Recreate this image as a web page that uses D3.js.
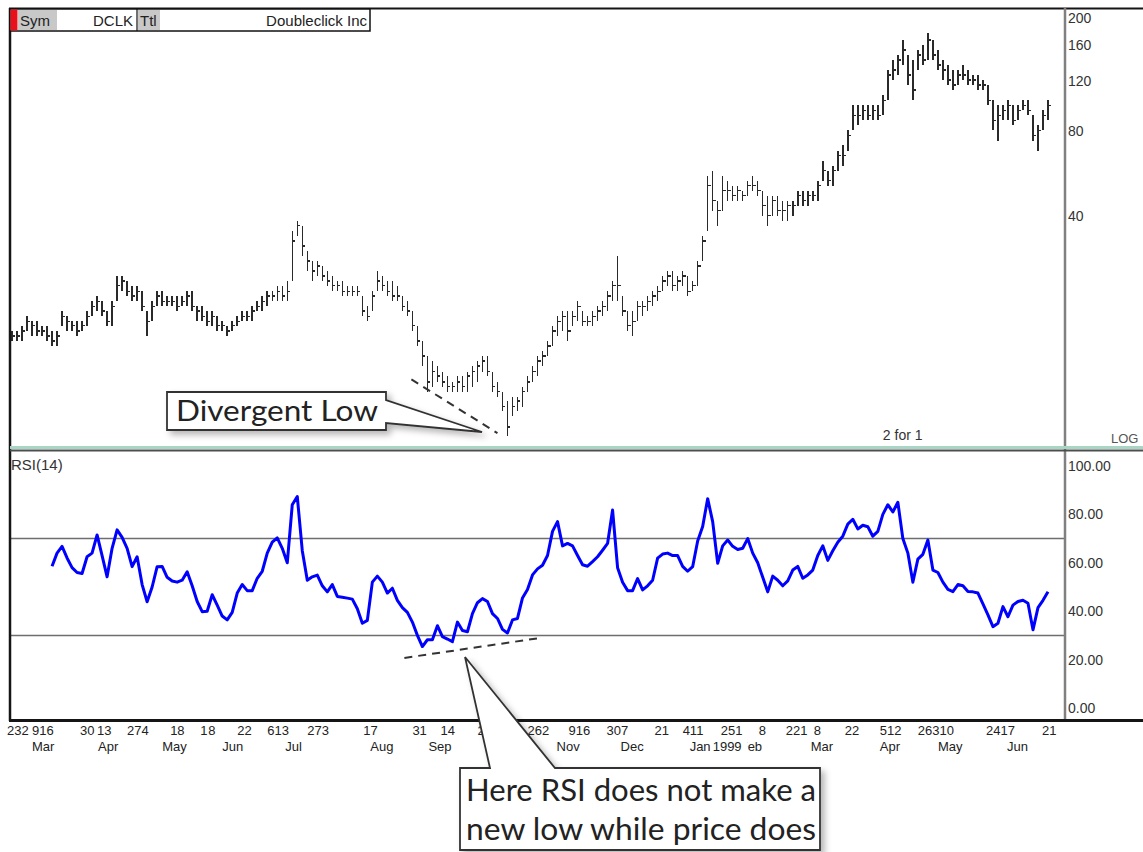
<!DOCTYPE html>
<html><head><meta charset="utf-8">
<script src="https://cdn.jsdelivr.net/npm/d3@7"></script>
<style>html,body{margin:0;padding:0;background:#fff;overflow:hidden}</style>
</head><body><svg id="c" width="1143" height="852"></svg>
<script>
// ---------------- DATA ----------------
const highs = [
15.7,15.7,16.4,17.7,17.0,17.0,16.4,16.4,15.7,15.7,
18.5,17.7,17.0,17.0,17.0,18.5,20.0,20.9,20.0,18.5,
20.0,24.6,24.6,23.6,22.7,22.7,21.7,18.5,20.0,21.7,
21.7,20.9,20.9,20.9,20.9,21.7,21.7,19.2,19.2,18.5,
18.5,17.7,17.0,16.4,17.0,17.7,18.5,18.5,19.2,20.0,
20.9,21.7,21.7,22.7,22.7,23.6,35.5,38.5,37.0,30.1,
27.8,27.8,26.7,25.6,24.6,23.6,23.6,22.7,22.7,22.7,
20.9,19.2,21.7,25.6,24.6,23.6,23.6,22.7,20.9,20.0,
18.5,16.4,14.5,12.8,12.3,11.8,11.3,10.9,10.4,10.9,
10.9,11.3,11.8,12.3,12.8,12.8,11.3,10.4,9.6,8.9,
9.2,9.2,10.0,10.9,11.8,12.8,13.3,14.5,16.4,17.7,
18.5,18.5,18.5,20.0,18.5,17.7,18.5,19.2,20.0,21.7,
23.6,28.9,20.9,18.5,18.5,20.0,20.0,20.9,21.7,22.7,
24.6,25.6,25.6,24.6,25.6,24.6,23.6,27.8,34.1,55.6,
57.9,45.3,55.6,53.3,51.2,51.2,49.2,53.3,55.6,53.3,
49.2,47.2,47.2,47.2,45.3,45.3,45.3,49.2,49.2,49.2,
49.2,53.3,62.8,57.9,60.3,68.1,71.0,80.2,98.4,98.4,
98.4,98.4,98.4,98.4,106.8,130.9,142.0,148.0,167.2,148.0,
142.0,154.1,160.6,177.0,167.2,154.1,142.0,136.4,130.9,130.9,
136.4,130.9,125.7,125.7,120.6,115.8,102.5,98.4,98.4,102.5,
98.4,98.4,102.5,102.5,90.7,83.6,94.4,102.5];
const lows = [
14.5,14.5,14.5,15.7,15.1,15.1,15.1,14.5,13.9,13.9,
16.4,15.7,15.7,15.1,15.7,16.4,17.7,18.5,17.7,16.4,
16.4,20.0,21.7,20.9,20.0,20.0,18.5,15.1,17.0,19.2,
19.2,19.2,19.2,18.5,19.2,19.2,18.5,17.0,17.0,16.4,
16.4,15.7,15.7,15.1,15.7,16.4,17.0,17.0,17.0,18.5,
18.5,19.2,20.0,20.0,20.0,20.0,23.6,34.1,28.9,25.6,
23.6,24.6,23.6,22.7,21.7,21.7,20.9,20.9,20.9,20.9,
17.7,17.0,18.5,21.7,21.7,20.9,20.0,20.0,18.5,17.7,
15.7,13.9,11.8,9.6,10.0,10.4,10.0,9.6,9.6,9.6,
9.6,9.6,10.0,10.4,11.3,10.9,9.6,9.2,8.2,6.7,
7.9,8.2,8.5,9.6,10.4,10.9,11.8,12.8,13.9,15.1,
15.7,14.5,16.4,17.0,16.4,16.4,16.4,17.0,17.7,18.5,
20.0,20.0,17.7,15.7,15.1,17.0,17.7,18.5,19.2,20.0,
21.7,22.7,21.7,21.7,22.7,20.9,21.7,22.7,27.8,35.5,
41.8,37.0,41.8,45.3,45.3,45.3,45.3,47.2,49.2,47.2,
40.1,37.0,40.1,40.1,38.5,38.5,40.1,43.5,43.5,43.5,
45.3,45.3,53.3,51.2,51.2,57.9,60.3,68.1,80.2,83.6,
87.0,87.0,87.0,87.0,90.7,102.5,120.6,125.7,136.4,115.8,
102.5,130.9,136.4,142.0,142.0,130.9,120.6,115.8,111.2,115.8,
120.6,115.8,115.8,111.2,111.2,98.4,80.2,73.9,87.0,87.0,
83.6,87.0,94.4,90.7,73.9,68.1,80.2,87.0];
const closes = [
15.1,15.1,15.7,17.0,16.4,15.7,15.7,15.1,14.5,15.1,
17.7,17.0,16.4,15.7,16.4,17.7,19.2,20.0,18.5,17.0,
19.2,22.7,23.6,21.7,20.9,21.7,19.2,17.0,19.2,20.9,
20.0,20.0,20.0,19.2,20.0,20.9,19.2,18.5,17.7,17.0,
17.7,16.4,16.4,15.7,16.4,17.0,17.7,17.7,18.5,19.2,
20.0,20.9,20.9,21.7,20.9,21.7,32.7,37.0,31.4,27.8,
25.6,26.7,24.6,23.6,22.7,22.7,21.7,21.7,21.7,21.7,
18.5,17.7,20.9,23.6,22.7,21.7,20.9,20.9,19.2,18.5,
16.4,14.5,12.8,10.4,11.3,10.9,10.4,10.0,10.0,10.4,
10.0,10.9,11.3,11.8,12.3,11.3,10.0,9.6,8.5,7.2,
8.5,8.9,9.6,10.4,11.3,12.3,12.8,13.9,15.7,17.0,
17.7,15.7,17.7,19.2,17.0,17.0,17.7,18.5,19.2,20.9,
22.7,22.7,18.5,16.4,17.0,19.2,19.2,20.0,20.9,21.7,
23.6,24.6,22.7,23.6,24.6,21.7,22.7,26.7,32.7,51.2,
45.3,41.8,49.2,49.2,47.2,49.2,47.2,51.2,51.2,49.2,
43.5,40.1,45.3,41.8,41.8,43.5,43.5,47.2,45.3,47.2,
47.2,51.2,57.9,53.3,57.9,65.4,65.4,77.0,90.7,90.7,
94.4,90.7,94.4,90.7,102.5,125.7,130.9,142.0,154.1,125.7,
111.2,148.0,142.0,167.2,148.0,136.4,130.9,120.6,115.8,125.7,
125.7,120.6,120.6,115.8,115.8,102.5,87.0,90.7,94.4,98.4,
87.0,94.4,98.4,94.4,77.0,80.2,90.7,98.4];

const rsiStart = 8; // first trading-day index that has an RSI(14) value
const rsiValues = [
58.6,64,66.8,62,58,56,55.6,62.5,64,71.5,
63,54.2,66,73.6,70.5,66,58.4,62.5,51,43.9,
50,58.4,58.5,54,52.5,52,52.8,56.3,50.5,44,
39.8,40,46.8,42.5,38,36.4,39.5,47.5,51,48.5,
48.5,53.6,56.5,64,68.5,70.3,66,60,84,87.4,
65,52.8,54.2,54.9,50.5,48,51,46.1,45.8,45.4,
45,41,35,36.2,52,54.5,52,47.5,49.5,44.5,
41.5,39.5,35.5,30,25.4,28.2,28.2,34,29.5,28.5,
27.4,35.5,32,31.5,39,43.5,45.2,44,39,37,
32.5,31,36.4,37,45.5,49,55,57.5,59,63,
73,77,67,68,67,63,59.2,58.6,60.5,62.5,
65.2,68,81.8,58,52,48.5,48.5,53.5,48.8,50.5,
52.8,61.9,63.6,64,63,63,58.5,56.5,58.4,69,
75,86.5,77,59.8,67,69.4,66.8,65.5,66,70,
64,60,54,48,54.5,52.8,50.5,52.5,57,58.5,
53.6,55,57,63,67,61,65,68.5,71,76,
78,74,75.5,74.9,71,73,80,84,81,85,
70,64,52,61.5,63.5,69.4,57,56,52,49,
48.1,51,50.5,48.1,48,47.5,43,38.5,33.6,35,
41.9,37.7,42.5,44,44.5,43.3,32.3,41.5,44.5,48];

const priceTicks = [200, 160, 120, 80, 40];
const rsiTicks = [100, 80, 60, 40, 20, 0];
const rsiLevels = [70, 30];

// bottom axis labels (text, trading-day index where the label starts)
const dayLabels   = ["232","916","30","13","274","18","1","8","22","613","273","17","31","14","2","28","262","916","307","21","411","251","8","221","8","22","512","26310","2417","21"];
const dayLabelIdx = [-1.0, 4.0, 13.6, 17.0, 23.0, 31.6, 37.6, 39.2, 45.0, 51.0, 59.0, 70.2, 80.0, 85.6, 93.0, 97.0, 103.0, 111.2, 118.8, 128.4, 134.0, 141.6, 149.2, 154.6, 160.2, 166.4, 173.4, 181.0, 194.6, 205.8];
const monthLabels   = ["Mar","Apr","May","Jun","Jul","Aug","Sep","Oct","Nov","Dec","Feb","Jan","1999","Mar","Apr","May","Jun"];
const monthLabelIdx = [4.0, 17.2, 30.0, 42.0, 54.6, 71.6, 83.2, 96.6, 108.8, 121.6, 145.4, 135.4, 140.0, 159.6, 173.4, 185.0, 198.8];

// annotation trend lines (trading-day index, value)
const priceDivLine = [[79.8, 10.6], [97.0, 6.85]];
const rsiDivLine   = [[78.4, 20.7], [105.4, 28.9]];

// ---------------- DRAW ----------------
const svg = d3.select('#c');
const FONT = '"Liberation Sans", Arial, sans-serif';
const CFONT = 'Lato, "Open Sans", sans-serif';

const x  = d3.scaleLinear().domain([0, 207]).range([12, 1048]);
const yP = d3.scaleLog().domain([6.07, 215.2]).range([448, 9]);
const yR = d3.scaleLinear().domain([0, 100]).range([708, 466]);

const defs = svg.append('defs');
const f = defs.append('filter').attr('id','sh').attr('x','-20%').attr('y','-20%').attr('width','150%').attr('height','150%');
f.append('feDropShadow').attr('dx',4).attr('dy',4).attr('stdDeviation',3).attr('flood-color','#000').attr('flood-opacity',0.28);

svg.append('rect').attr('width',1143).attr('height',852).attr('fill','#fff');

// RSI level lines
svg.append('g').selectAll('line').data(rsiLevels).join('line')
  .attr('x1',10).attr('x2',1065).attr('y1',d=>yR(d)).attr('y2',d=>yR(d))
  .attr('stroke','#6e6e6e').attr('stroke-width',1.5);

// price bars
const bars = svg.append('g').attr('stroke','#2a2a2a').attr('stroke-width',1.5).attr('shape-rendering','crispEdges');
highs.forEach((h,i)=>{
  bars.append('line').attr('x1',x(i)).attr('x2',x(i)).attr('y1',yP(h)).attr('y2',yP(lows[i]));
  bars.append('line').attr('x1',x(i)).attr('x2',x(i)+3).attr('y1',yP(closes[i])).attr('y2',yP(closes[i]));
});

// RSI line
svg.append('path').datum(rsiValues)
  .attr('d', d3.line().x((d,k)=>x(rsiStart+k)).y(d=>yR(d)))
  .attr('fill','none').attr('stroke','#0000ff').attr('stroke-width',3).attr('stroke-linejoin','round');

// dashed divergence lines
[[priceDivLine,yP],[rsiDivLine,yR]].forEach(([pts,ys])=>{
  svg.append('line').attr('x1',x(pts[0][0])).attr('y1',ys(pts[0][1]))
    .attr('x2',x(pts[1][0])).attr('y2',ys(pts[1][1]))
    .attr('stroke','#333').attr('stroke-width',2).attr('stroke-dasharray','8,6');
});

// frame
svg.append('line').attr('x1',9).attr('x2',1143).attr('y1',8.5).attr('y2',8.5).attr('stroke','#151515').attr('stroke-width',2);
svg.append('line').attr('x1',10).attr('x2',10).attr('y1',8).attr('y2',721).attr('stroke','#151515').attr('stroke-width',2.5);
svg.append('line').attr('x1',1065).attr('x2',1065).attr('y1',8).attr('y2',720).attr('stroke','#808080').attr('stroke-width',2.5);
svg.append('rect').attr('x',10).attr('y',446).attr('width',1133).attr('height',3).attr('fill','#a9d6c4');
svg.append('line').attr('x1',10).attr('x2',1143).attr('y1',450.5).attr('y2',450.5).attr('stroke','#4d4d4d').attr('stroke-width',2);
svg.append('line').attr('x1',9).attr('x2',1143).attr('y1',720.5).attr('y2',720.5).attr('stroke','#151515').attr('stroke-width',3);

// right axis labels
svg.append('g').selectAll('text').data(priceTicks).join('text')
  .attr('x',1068).attr('y',d=>yP(d)).attr('dy','0.35em')
  .attr('font-family',FONT).attr('font-size',14).attr('fill','#333').text(d=>d);
svg.append('g').selectAll('text').data(rsiTicks).join('text')
  .attr('x',1068).attr('y',d=>yR(d)).attr('dy','0.35em')
  .attr('font-family',FONT).attr('font-size',14).attr('fill','#333').text(d=>d3.format('.2f')(d));

// misc texts
const txt = (s,xx,yy,size,opt={}) => svg.append('text').attr('x',xx).attr('y',yy)
  .attr('font-family',opt.font||FONT).attr('font-size',size).attr('fill',opt.fill||'#222')
  .attr('text-anchor',opt.anchor||'start').text(s);
txt('RSI(14)',11,470,15,{fill:'#333'});
txt('2 for 1',x(174),440,14,{fill:'#333'});
txt('LOG',1111,443,13,{fill:'#555'});

// bottom axis labels
svg.append('g').selectAll('text').data(dayLabels).join('text')
  .attr('x',(d,k)=>x(dayLabelIdx[k])).attr('y',735)
  .attr('font-family',FONT).attr('font-size',13).attr('fill','#222').text(d=>d);
const mg = svg.append('g');
monthLabels.forEach((m,k)=>{
  const t = mg.append('text').attr('x',x(monthLabelIdx[k])).attr('y',751)
    .attr('font-family',FONT).attr('font-size',13).attr('fill','#222').text(m);
  if (m === '1999') {           // year label sits on top of "Feb", hiding its first letter
    const b = t.node().getBBox();
    mg.insert('rect', () => t.node()).attr('x',b.x-1).attr('y',b.y).attr('width',b.width+7).attr('height',b.height).attr('fill','#fff');
  }
});

// header box
const hd = svg.append('g');
hd.append('rect').attr('x',10).attr('y',9).attr('width',360).attr('height',22).attr('fill','#fff').attr('stroke','#111').attr('stroke-width',1.5);
hd.append('rect').attr('x',10.5).attr('y',9.5).attr('width',7).attr('height',21).attr('fill','#e8101a');
hd.append('rect').attr('x',18).attr('y',10).attr('width',39).attr('height',20).attr('fill','#c8c8c8');
hd.append('rect').attr('x',138).attr('y',10).attr('width',22).attr('height',20).attr('fill','#c8c8c8');
hd.append('line').attr('x1',137).attr('x2',137).attr('y1',9).attr('y2',31).attr('stroke','#111').attr('stroke-width',1.2);
hd.append('text').attr('x',20).attr('y',26).attr('font-family',FONT).attr('font-size',15).attr('fill','#222').text('Sym');
hd.append('text').attr('x',133).attr('y',26).attr('text-anchor','end').attr('font-family',FONT).attr('font-size',15).attr('fill','#222').text('DCLK');
hd.append('text').attr('x',140).attr('y',26).attr('font-family',FONT).attr('font-size',15).attr('fill','#222').text('Ttl');
hd.append('text').attr('x',367).attr('y',26).attr('text-anchor','end').attr('font-family',FONT).attr('font-size',15).attr('fill','#222').text('Doubleclick Inc');

// callout 1 : Divergent Low
svg.append('path').attr('d','M167,392 H386 V400 L482,432 L386,423 V430 H167 Z')
  .attr('fill','#fff').attr('stroke','#333').attr('stroke-width',1.8).attr('filter','url(#sh)');
svg.append('text').attr('x',176).attr('y',421).attr('font-family',CFONT).attr('font-size',29)
  .attr('fill','#222').attr('textLength',202).attr('lengthAdjust','spacingAndGlyphs').text('Divergent Low');

// callout 2 : RSI note
svg.append('path').attr('d','M460,768 H490 L465,657 L555,768 H820 V850 H460 Z')
  .attr('fill','#fff').attr('stroke','#333').attr('stroke-width',1.8).attr('filter','url(#sh)');
svg.append('text').attr('x',466).attr('y',801).attr('font-family',CFONT).attr('font-size',31)
  .attr('fill','#222').attr('textLength',350).attr('lengthAdjust','spacingAndGlyphs').text('Here RSI does not make a');
svg.append('text').attr('x',466).attr('y',840).attr('font-family',CFONT).attr('font-size',31)
  .attr('fill','#222').attr('textLength',350).attr('lengthAdjust','spacingAndGlyphs').text('new low while price does');
</script>
</body></html>
